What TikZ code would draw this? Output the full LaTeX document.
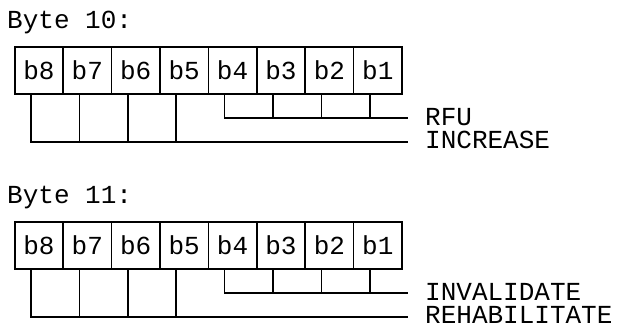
\documentclass[tikz,border=0pt]{standalone}
\usepackage{fontspec}
\setmonofont{Liberation Mono}
\usepackage{tikz}
\usetikzlibrary{positioning}

\begin{document}
\begin{tikzpicture}[
    x=1pt, y=-1pt,
    every node/.style={
        font=\ttfamily\fontsize{26}{26}\selectfont,
        inner sep=0pt
    },
    bitbox/.style={draw, line width=1.5pt, anchor=north west,
        minimum width=48.4pt, minimum height=47pt},
    wire/.style={line width=1.5pt},
    title/.style={anchor=base west},
    tag/.style={anchor=base west}
]
\useasboundingbox (0,0) rectangle (618,327);

\foreach \byt/\dy/\lo/\hi in {10/0/RFU/INCREASE, 11/175/INVALIDATE/REHABILITATE} {
    \node[title] (title\byt) at (7,28+\dy) {Byte \byt:};
    \foreach \b [count=\i from 0] in {8,...,1}
        \node[bitbox] (b\b-\byt) at (14+48.4*\i,46+\dy) {b\b};

    \coordinate (lo\byt) at (408,118+\dy);
    \coordinate (hi\byt) at (408,142+\dy);
    \node[tag] (lotag\byt) at (425,125+\dy) {\lo};
    \node[tag] (hitag\byt) at (425,148.5+\dy) {\hi};

    % bits 4..1
    \draw[wire] ([xshift=17pt]b4-\byt.south west) |- (lo\byt);
    \foreach \b in {3,2,1}
        \draw[wire] ([xshift=17pt]b\b-\byt.south west) -- ([xshift=17pt]b\b-\byt.south west |- lo\byt);
    % bits 8..5
    \draw[wire] ([xshift=17pt]b8-\byt.south west) |- (hi\byt);
    \foreach \b in {7,6,5}
        \draw[wire] ([xshift=17pt]b\b-\byt.south west) -- ([xshift=17pt]b\b-\byt.south west |- hi\byt);
}
\end{tikzpicture}
\end{document}
